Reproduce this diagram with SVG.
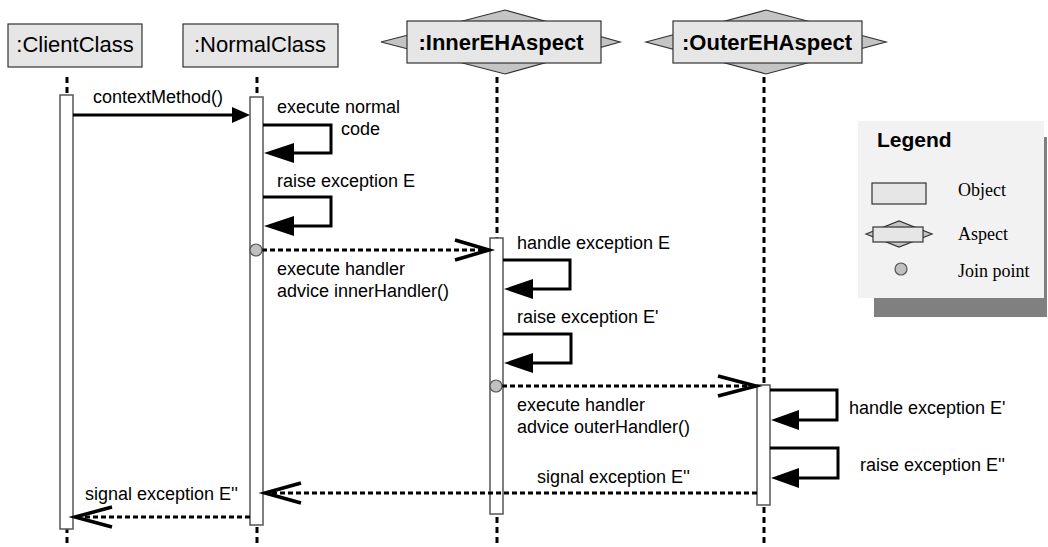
<svg xmlns="http://www.w3.org/2000/svg" width="1048" height="547" viewBox="0 0 1048 547">
  <defs>
    <style>
      .obj { fill: #e6e6e6; stroke: #333; stroke-width: 1.2; }
      .dia { fill: #c4c4c4; stroke: #333; stroke-width: 1.2; }
      .head { font-family: "Liberation Sans", Arial, sans-serif; font-size: 22px; fill: #000; text-anchor: middle; }
      .headb { font-family: "Liberation Sans", Arial, sans-serif; font-size: 22px; font-weight: bold; fill: #000; text-anchor: middle; }
      .life { stroke: #000; stroke-width: 3; stroke-dasharray: 6 4; fill: none; }
      .bar { fill: #fff; stroke: #555; stroke-width: 1.5; }
      .msg { stroke: #000; stroke-width: 3; fill: none; }
      .ret { stroke: #000; stroke-width: 3; stroke-dasharray: 5 3; fill: none; }
      .open { stroke: #000; stroke-width: 3.5; fill: none; stroke-linejoin: miter; }
      .solid { fill: #000; stroke: none; }
      .jp { fill: #c0c0c0; stroke: #555; stroke-width: 1.2; }
      .lbl { font-family: "Liberation Sans", Arial, sans-serif; font-size: 18px; fill: #000; }
      .leg { font-family: "Liberation Serif", "Times New Roman", serif; font-size: 18px; fill: #000; }
      .legt { font-family: "Liberation Sans", Arial, sans-serif; font-size: 21px; font-weight: bold; fill: #000; }
    </style>
  </defs>

  <rect width="1048" height="547" fill="#fff"/>

  <!-- lifelines -->
  <g id="lifelines">
    <line class="life" x1="67" y1="77" x2="67" y2="547"/>
    <line class="life" x1="257" y1="77" x2="257" y2="547"/>
    <line class="life" x1="497" y1="77" x2="497" y2="547"/>
    <line class="life" x1="764" y1="77" x2="764" y2="547"/>
  </g>

  <!-- participants -->
  <g id="client">
    <rect class="obj" x="8" y="24" width="134" height="43"/>
    <text class="head" x="75" y="52">:ClientClass</text>
    <rect class="bar" x="60" y="95" width="13" height="434"/>
  </g>

  <g id="normal">
    <rect class="obj" x="183" y="24" width="155" height="43"/>
    <text class="head" x="260" y="52">:NormalClass</text>
    <rect class="bar" x="250" y="97" width="13" height="428"/>
  </g>

  <g id="inner-aspect">
    <polygon class="dia" points="381,42 505,10 620,42 505,74"/>
    <rect class="obj" x="407" y="21" width="194" height="42"/>
    <text class="headb" x="501" y="50">:InnerEHAspect</text>
    <rect class="bar" x="490" y="238" width="13" height="276"/>
  </g>

  <g id="outer-aspect">
    <polygon class="dia" points="646,42 766,10 886,42 766,74"/>
    <rect class="obj" x="673" y="21" width="189" height="42"/>
    <text class="headb" x="767" y="50">:OuterEHAspect</text>
    <rect class="bar" x="757" y="385" width="13" height="120"/>
  </g>

  <!-- messages -->
  <g id="connectors">
    <!-- contextMethod() -->
    <line class="msg" x1="73" y1="115" x2="234" y2="115"/>
    <polygon class="solid" points="232,107 250,115 232,123"/>

    <!-- self call: execute normal code -->
    <polyline class="msg" points="263,125 331,125 331,153 290,153"/>
    <polygon class="solid" points="294,143 264,153 294,163"/>

    <!-- self call: raise exception E -->
    <polyline class="msg" points="263,197 331,197 331,226 290,226"/>
    <polygon class="solid" points="294,216 264,226 294,236"/>

    <!-- handler advice to inner aspect -->
    <line class="ret" x1="262" y1="250" x2="488" y2="250"/>
    <polyline class="open" points="455,240 489,250 455,260"/>

    <!-- inner: handle exception E -->
    <polyline class="msg" points="503,260 570,260 570,289 530,289"/>
    <polygon class="solid" points="533,279 504,289 533,299"/>

    <!-- inner: raise exception E' -->
    <polyline class="msg" points="503,334 571,334 571,363 530,363"/>
    <polygon class="solid" points="533,353 504,363 533,373"/>

    <!-- handler advice to outer aspect -->
    <line class="ret" x1="502" y1="386" x2="755" y2="386"/>
    <polyline class="open" points="718,376 756,386 718,396"/>

    <!-- outer: handle exception E' -->
    <polyline class="msg" points="770,390 837,390 837,420 796,420"/>
    <polygon class="solid" points="799,410 771,420 799,430"/>

    <!-- outer: raise exception E'' -->
    <polyline class="msg" points="770,448 838,448 838,478 796,478"/>
    <polygon class="solid" points="799,468 771,478 799,488"/>

    <!-- signal exception E'' outer -> normal -->
    <line class="ret" x1="757" y1="493" x2="266" y2="493"/>
    <polyline class="open" points="301,483 265,493 301,503"/>

    <!-- signal exception E'' normal -> client -->
    <line class="ret" x1="250" y1="517" x2="76" y2="517"/>
    <polyline class="open" points="112,507 75,517 112,527"/>
  </g>

  <!-- join points -->
  <g id="joinpoints">
    <circle class="jp" cx="256" cy="250" r="6"/>
    <circle class="jp" cx="496" cy="386" r="6"/>
  </g>

  <!-- labels -->
  <g id="labels">
    <text class="lbl" x="93" y="103">contextMethod()</text>
    <text class="lbl" x="277" y="113">execute normal</text>
    <text class="lbl" x="341" y="135">code</text>
    <text class="lbl" x="277" y="187">raise exception E</text>
    <text class="lbl" x="277" y="275">execute handler</text>
    <text class="lbl" x="277" y="297">advice innerHandler()</text>
    <text class="lbl" x="517" y="249">handle exception E</text>
    <text class="lbl" x="517" y="323">raise exception E'</text>
    <text class="lbl" x="517" y="411">execute handler</text>
    <text class="lbl" x="517" y="433">advice outerHandler()</text>
    <text class="lbl" x="849" y="414">handle exception E'</text>
    <text class="lbl" x="860" y="471">raise exception E''</text>
    <text class="lbl" x="537" y="483">signal exception E''</text>
    <text class="lbl" x="85" y="500">signal exception E''</text>
  </g>

  <!-- legend -->
  <g id="legend">
    <rect x="874" y="137" width="173" height="180" fill="#808080"/>
    <rect x="858" y="121" width="186" height="177" fill="#f2f2f2"/>
    <text class="legt" x="877" y="147">Legend</text>
    <rect class="obj" x="872" y="183" width="54" height="21"/>
    <text class="leg" x="958" y="196">Object</text>
    <polygon class="dia" points="866,234 899,221 932,234 899,247"/>
    <rect class="obj" x="873" y="227" width="50" height="15"/>
    <text class="leg" x="958" y="240">Aspect</text>
    <circle class="jp" cx="901" cy="269" r="6"/>
    <text class="leg" x="958" y="277">Join point</text>
  </g>
</svg>
